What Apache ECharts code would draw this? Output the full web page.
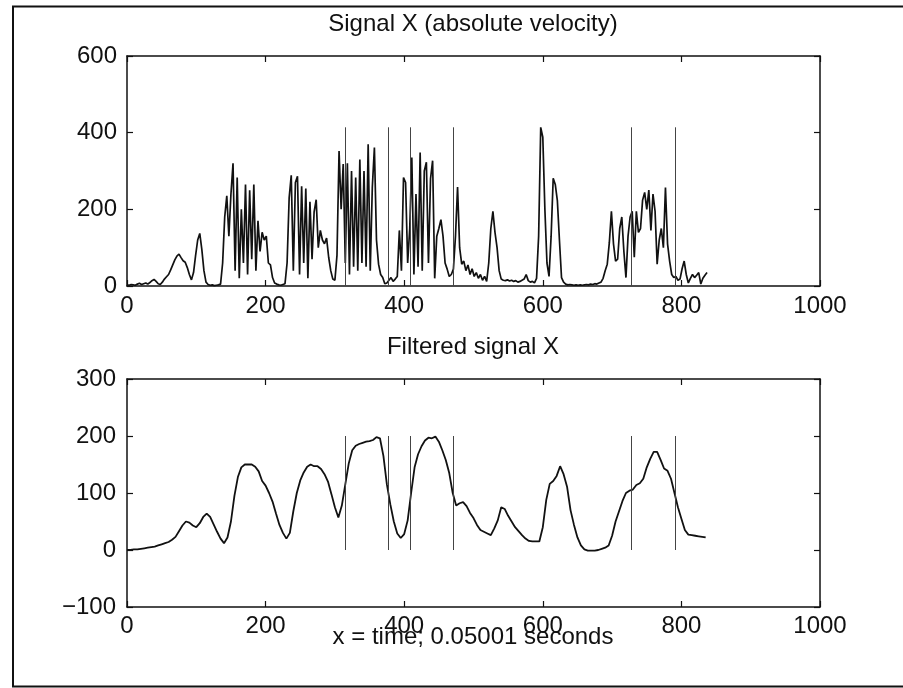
<!DOCTYPE html>
<html><head><meta charset="utf-8">
<script src="https://cdn.jsdelivr.net/npm/echarts@6/dist/echarts.min.js"></script>
<style>html,body{margin:0;padding:0;background:#fff}#c{width:903px;height:688px}</style>
</head><body><div id="c"></div>
<script>
// ---- data ----
const topTitle = 'Signal X (absolute velocity)';
const bottomTitle = 'Filtered signal X';
const xAxisLabel = 'x = time; 0.05001 seconds';

const rawStep = 3; // sample spacing of rawSignal (x units)
const rawSignal = [
  3,2,4,3,2,5,7,4,6,8,5,9,14,17,12,6,4,10,18,24,30,42,55,68,78,83,74,66,62,48,30,16,35,80,120,137,95,40,10,4,2,3,1,2,3,
  5,60,180,235,130,240,320,40,283,20,200,60,265,30,250,70,265,40,170,90,140,120,130,60,55,22,8,
  5,3,2,4,6,60,230,289,40,270,286,30,260,60,254,20,220,70,193,225,100,145,120,110,125,75,40,18,
  15,80,352,200,318,60,320,30,300,50,283,40,330,60,300,50,370,40,258,361,120,57,30,22,6,
  8,15,22,12,18,25,145,40,283,270,60,150,335,30,240,50,348,40,300,323,60,280,327,20,130,150,173,130,60,44,25,30,44,130,258,100,
  57,65,40,55,30,45,25,35,20,30,15,25,12,60,150,195,140,100,40,18,15,14,16,13,15,12,14,10,12,15,18,30,14,10,12,8,20,130,
  414,388,200,60,25,130,281,265,223,120,22,10,
  5,3,4,3,2,3,2,3,2,3,4,3,5,4,6,5,8,10,20,40,57,113,195,110,65,70,150,180,90,22,130,180,195,75,195,140,150,224,244,200,
  250,145,240,195,57,120,150,100,257,110,65,30,22,25,15,18,45,65,30,8,20,30,22,28,35,5,20,28,35
];

const filtStep = 5; // sample spacing of filteredSignal (x units)
const filteredSignal = [
  0,0,1,1,2,3,4,5,6,8,
  10,12,14,18,23,33,43,50,48,43,
  40,47,58,64,58,45,32,20,12,22,
  50,95,128,145,150,150,150,146,138,121,
  113,100,85,64,44,30,20,30,68,100,
  122,136,146,150,147,147,142,133,120,98,
  75,57,78,115,152,175,183,186,188,190,
  191,193,198,196,165,115,80,50,29,21,
  28,52,100,145,168,182,192,197,196,199,
  190,175,158,135,100,78,82,84,77,65,
  56,44,35,32,29,26,38,52,75,72,
  60,50,40,33,26,20,16,15,15,15,
  40,88,116,121,130,147,133,111,70,44,
  22,8,1,-1,-1,-1,0,2,4,8,
  25,50,68,86,100,104,106,114,117,125,
  145,160,172,172,158,143,139,125,100,75,
  55,35,27,26,25,24,23,22
];

const markerX = [315, 377, 409, 471, 727, 791];
const rawMarkerTop = 414;
const filtMarkerTop = 200;

const xRange = {min: 0, max: 1000, interval: 200};
const topYRange = {min: 0, max: 600, interval: 200};
const botYRange = {min: -100, max: 300, interval: 100};

// ---- styles ----
const FONT = '"Liberation Sans",Arial,Helvetica,sans-serif';
const INK = '#111';
const lineW = 1.5;
const FS = 24;

function axis(gridIndex, range, position, showLabels, margin) {
  return Object.assign({
    type: 'value', gridIndex: gridIndex, position: position,
    axisLine: {show: true, onZero: false, lineStyle: {color: INK, width: lineW}},
    axisTick: {show: true, inside: true, length: 6, lineStyle: {color: INK, width: 1.2}},
    axisLabel: {show: showLabels, color: INK, fontSize: FS, fontFamily: FONT, margin: margin,
      formatter: v => String(v).replace('-', '\u2212')},
    splitLine: {show: false}
  }, range);
}

const rawData = rawSignal.map((v, i) => [i * rawStep, v]);
const filtData = filteredSignal.map((v, i) => [i * filtStep, v]);

function markers(top) {
  return {
    silent: true, symbol: ['none', 'none'], label: {show: false}, animation: false,
    lineStyle: {color: '#444', width: 1, type: 'solid'},
    emphasis: {disabled: true},
    data: markerX.map(x => [{coord: [x, 0]}, {coord: [x, top]}])
  };
}

function textEl(text, x, y) {
  return {type: 'text', x: x, y: y, silent: true,
    style: {text: text, font: FS + 'px ' + FONT, fill: INK,
      align: 'center', verticalAlign: 'middle', textAlign: 'center', textVerticalAlign: 'middle'}};
}

const chart = echarts.init(document.getElementById('c'), null, {renderer: 'canvas'});
chart.setOption({
  animation: false,
  backgroundColor: '#fff',
  grid: [
    {left: 127, right: 83, top: 56, height: 230},
    {left: 127, right: 83, top: 379, height: 228}
  ],
  xAxis: [
    axis(0, xRange, 'bottom', true, 8),
    axis(0, xRange, 'top', false, 8),
    axis(1, xRange, 'bottom', true, 7),
    axis(1, xRange, 'top', false, 7)
  ],
  yAxis: [
    axis(0, topYRange, 'left', true, 10),
    axis(0, topYRange, 'right', false, 10),
    axis(1, botYRange, 'left', true, 11),
    axis(1, botYRange, 'right', false, 11)
  ],
  series: [
    {type: 'line', xAxisIndex: 0, yAxisIndex: 0, data: rawData, symbol: 'none', showSymbol: false,
     lineStyle: {color: INK, width: 1.7}, silent: true, markLine: markers(rawMarkerTop)},
    {type: 'line', xAxisIndex: 2, yAxisIndex: 2, data: filtData, symbol: 'none', showSymbol: false,
     lineStyle: {color: INK, width: 1.8}, silent: true, markLine: markers(filtMarkerTop)}
  ],
  graphic: [
    {type: 'rect', silent: true, shape: {x: 13, y: 6.5, width: 960, height: 680},
     style: {fill: 'none', stroke: INK, lineWidth: 2}},
    textEl(topTitle, 473, 24),
    textEl(bottomTitle, 473, 347),
    textEl(xAxisLabel, 473, 637)
  ]
});
</script></body></html>
